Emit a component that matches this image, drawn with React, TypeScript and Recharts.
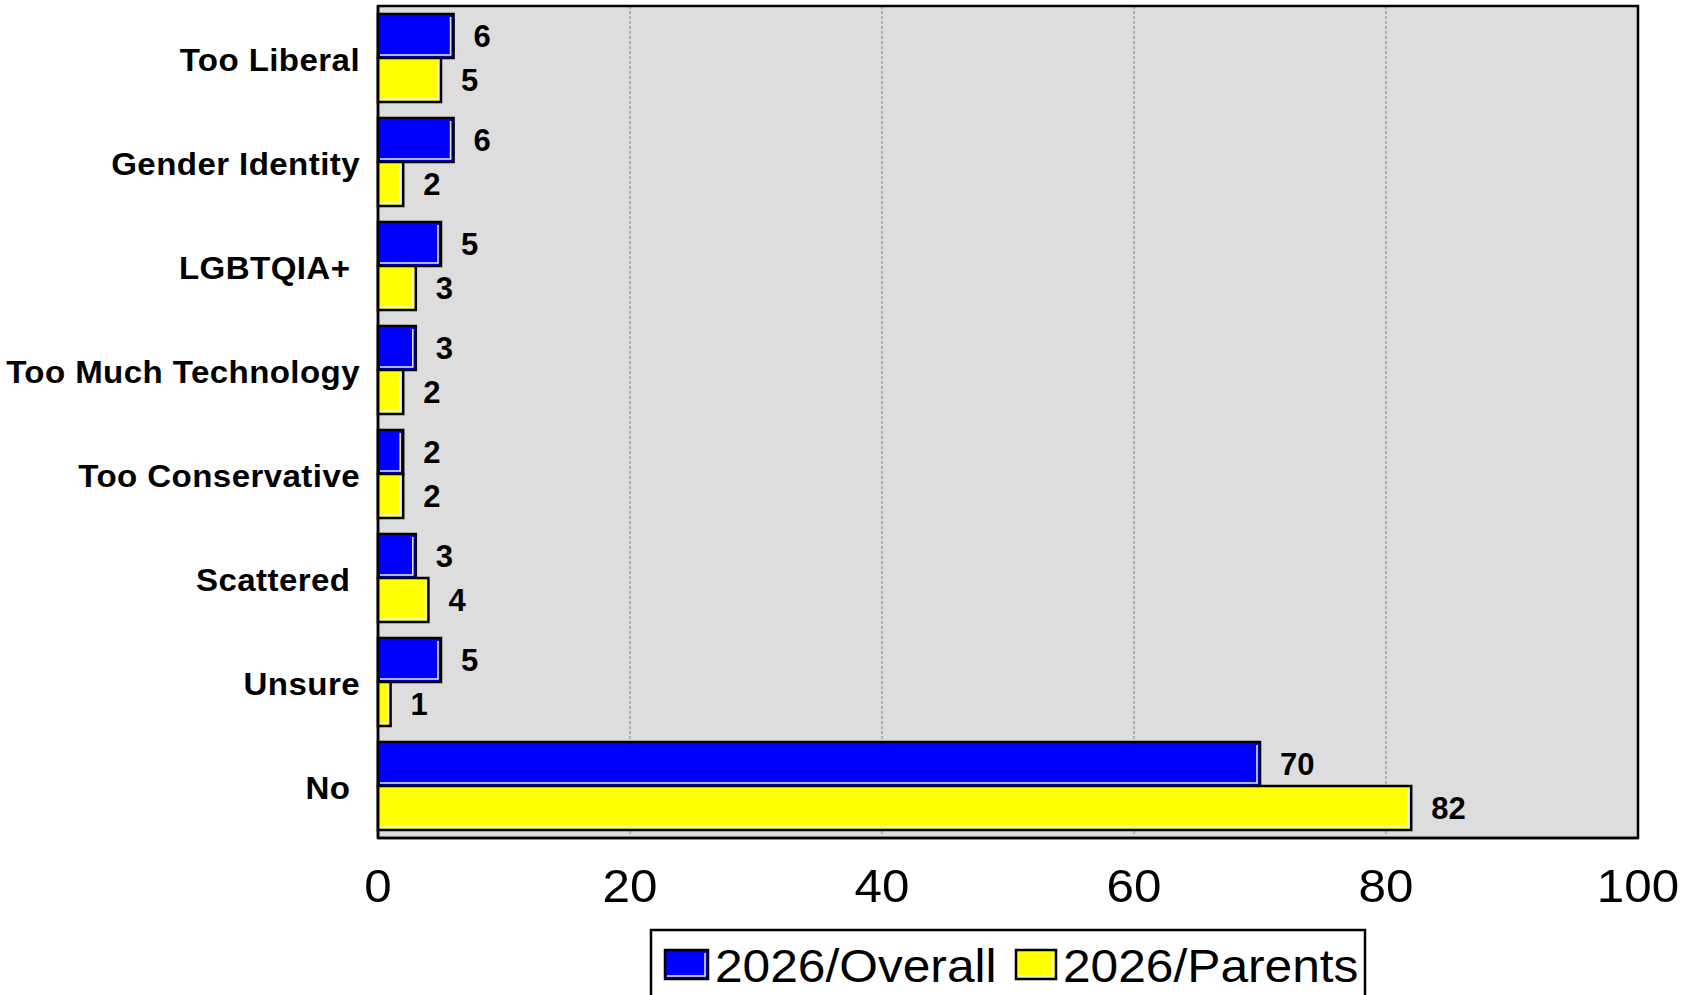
import React from 'react';
import { BarChart, Bar, XAxis, YAxis, CartesianGrid, LabelList, ReferenceArea } from 'recharts';

const categories = ['Too Liberal', 'Gender Identity', 'LGBTQIA+ ', 'Too Much Technology', 'Too Conservative', 'Scattered ', 'Unsure', 'No '];
const overallValues = [6, 6, 5, 3, 2, 3, 5, 70];
const parentsValues = [5, 2, 3, 2, 2, 4, 1, 82];
const xTicks = [0, 20, 40, 60, 80, 100];
const seriesNames = ['2026/Overall', '2026/Parents'];
const seriesColors = ['#0000FF', '#FFFF00'];

const data = categories.map((name, i) => ({ name, overall: overallValues[i], parents: parentsValues[i] }));

const FONT = '"Liberation Sans", Arial, Helvetica, sans-serif';

const BarShape = (props: any) => {
  const { x, y, width, height, fill } = props;
  if (width == null || width <= 0) return null;
  return (
    <g>
      <rect x={x} y={y} width={width} height={height} fill={fill} stroke="#000" strokeWidth={2.5} />
      <polyline
        points={`${x + width - 3},${y + 3} ${x + width - 3},${y + height - 3} ${x + 2},${y + height - 3}`}
        fill="none"
        stroke="#eeeeee"
        strokeWidth={1.5}
      />
    </g>
  );
};

const YTick = ({ x, y, payload }: any) => (
  <g transform={`translate(${x - 2},${y}) scale(1.05,1)`}>
    <text x={0} y={0} dy="0.42em" textAnchor="end" fontFamily={FONT} fontWeight="bold" fontSize={31.5} fill="#000" letterSpacing={0.4} style={{ whiteSpace: 'pre' }}>
      {payload.value}
    </text>
  </g>
);

const XTick = ({ x, y, payload }: any) => (
  <g transform={`translate(${x},${y + 64}) scale(1.05,1)`}>
    <text x={0} y={0} textAnchor="middle" fontFamily={FONT} fontSize={47} fill="#000">
      {payload.value}
    </text>
  </g>
);

const Legendbox = () => {
  const swatches = [
    { sx: 665, sw: 43, tx: 715 },
    { sx: 1016, sw: 40, tx: 1063 },
  ];
  return (
    <svg width={1698} height={995} style={{ position: 'absolute', left: 0, top: 0, pointerEvents: 'none' }}>
      <rect x={651} y={930} width={714} height={90} fill="#fff" stroke="#000" strokeWidth={2.5} />
      {seriesNames.map((n, i) => (
        <g key={n}>
          <rect x={swatches[i].sx} y={950} width={swatches[i].sw} height={29} fill={seriesColors[i]} stroke="#000" strokeWidth={2.5} />
          <polyline
            points={`${swatches[i].sx + swatches[i].sw - 3},${953} ${swatches[i].sx + swatches[i].sw - 3},${976} ${swatches[i].sx + 2},${976}`}
            fill="none"
            stroke="#eeeeee"
            strokeWidth={1.5}
          />
          <g transform={`translate(${swatches[i].tx},982) scale(1.08,1)`}>
            <text x={0} y={0} fontFamily={FONT} fontSize={46} fill="#000">{n}</text>
          </g>
        </g>
      ))}
    </svg>
  );
};

export default function App() {
  return (
    <div style={{ position: 'absolute', left: 0, top: 0, width: 1698, height: 995, background: '#fff', overflow: 'hidden' }}>
      <BarChart
        width={1698}
        height={995}
        data={data}
        layout="vertical"
        margin={{ top: 6, right: 60, bottom: 0, left: 0 }}
        barCategoryGap={8}
        barGap={0}
      >
        <CartesianGrid fill="#DDDDDD" fillOpacity={1} horizontal={false} stroke="#808080" strokeDasharray="3 2" />
        <XAxis
          type="number"
          domain={[0, 100]}
          ticks={xTicks}
          height={157}
          tickSize={0}
          tickMargin={0}
          tick={<XTick />}
          axisLine={{ stroke: '#000', strokeWidth: 2.5 }}
          tickLine={false}
          interval={0}
        />
        <YAxis
          type="category"
          dataKey="name"
          width={378}
          tickSize={0}
          tickMargin={16}
          tick={<YTick />}
          axisLine={{ stroke: '#000', strokeWidth: 2.5 }}
          tickLine={false}
          interval={0}
        />
        <Bar dataKey="overall" name={seriesNames[0]} fill={seriesColors[0]} shape={<BarShape />} isAnimationActive={false}>
          <LabelList dataKey="overall" position="right" offset={20} fontFamily={FONT} fontWeight="bold" fontSize={31} fill="#000" />
        </Bar>
        <Bar dataKey="parents" name={seriesNames[1]} fill={seriesColors[1]} shape={<BarShape />} isAnimationActive={false}>
          <LabelList dataKey="parents" position="right" offset={20} fontFamily={FONT} fontWeight="bold" fontSize={31} fill="#000" />
        </Bar>
        <ReferenceArea x1={0} x2={100} fill="none" fillOpacity={0} stroke="#000" strokeWidth={2.5} ifOverflow="visible" />
      </BarChart>
      <Legendbox />
    </div>
  );
}
